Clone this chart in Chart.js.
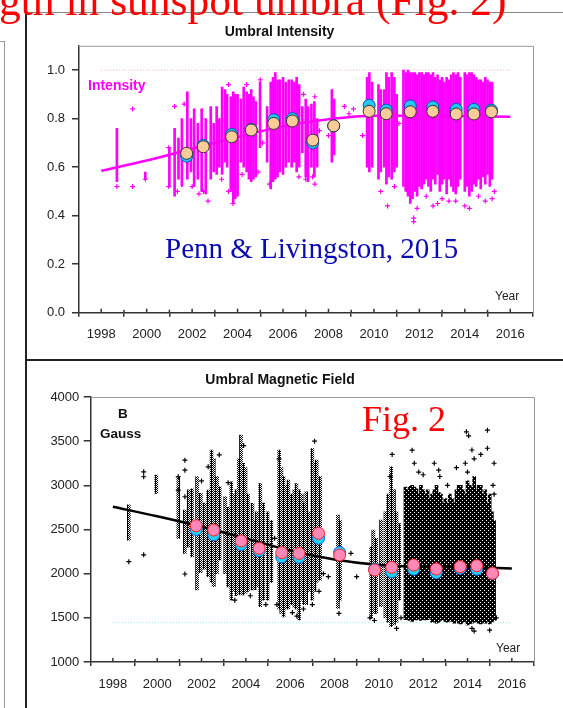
<!DOCTYPE html>
<html><head><meta charset="utf-8">
<script src="https://cdn.jsdelivr.net/npm/chart.js@4/dist/chart.umd.min.js"></script>
<style>
html,body{margin:0;padding:0;background:#fff;width:563px;height:708px;overflow:hidden;position:relative;font-family:Arial,"Liberation Sans",sans-serif}
.abs{position:absolute;white-space:nowrap;line-height:1}
.serif{font-family:"Liberation Serif","Times New Roman",serif}
canvas{position:absolute}
</style></head><body>
<canvas id="c1" width="524" height="348" style="left:26px;top:12px"></canvas>
<canvas id="c2" width="558" height="348" style="left:26px;top:360px"></canvas>

<div class="abs" style="left:26px;top:12px;width:537px;height:0;border-top:1px solid #888"></div>
<div class="abs" style="left:25px;top:10px;width:2px;height:698px;background:#222"></div>
<div class="abs" style="left:26px;top:359px;width:537px;height:2px;background:#222"></div>
<div class="abs" style="left:-10px;top:41px;width:13px;height:700px;border:1px solid #999"></div>

<div class="abs serif" style="left:-1px;top:-21px;font-size:43.5px;color:#ff0000">gth in sunspot umbra (Fig. 2)</div>
<div class="abs" style="left:88px;top:78px;font-size:14px;font-weight:bold;color:#ff00ff">Intensity</div>
<div class="abs serif" style="left:165px;top:234px;font-size:29px;color:#0b0bb5">Penn &amp; Livingston, 2015</div>
<div class="abs" style="left:495px;top:290px;font-size:12px;color:#222">Year</div>
<div class="abs serif" style="left:362px;top:401px;font-size:36px;color:#ff0000">Fig. 2</div>
<div class="abs" style="left:118px;top:407px;font-size:13.5px;font-weight:bold;color:#111">B</div>
<div class="abs" style="left:100px;top:427px;font-size:13.5px;font-weight:bold;color:#111">Gauss</div>
<div class="abs" style="left:496px;top:642px;font-size:12px;color:#222">Year</div>

<script>
// ---------- Umbral Intensity ----------
// sparse observation columns: year, lowest and highest plotted value
const intensitySparseYear = [1998.69,1999.94,2001.0,2001.23,2001.4,2001.55,2001.79,2001.95,2002.09,2002.25,2002.42,2002.6,2002.82,2002.95,2003.08,2003.2,2003.32,2003.45,2003.54,2003.7,2003.81,2003.9,2004.0,2004.15,2004.27,2004.4,2004.5,2004.6,2004.7,2004.8,2004.99,2005.3,2005.46,2005.56,2005.66,2005.76,2005.86,2006.0,2006.12,2006.25,2006.38,2006.5,2006.6,2006.71,2006.85,2007.0,2007.1,2007.25,2007.38,2007.5,2008.15,2008.25,2009.7,2009.8,2009.92,2010.2,2010.3,2010.45,2010.55,2010.65,2010.78,2010.9,2011.0];
const intensitySparseLow = [0.54,0.55,0.52,0.48,0.55,0.52,0.55,0.58,0.52,0.55,0.50,0.49,0.55,0.58,0.57,0.60,0.57,0.62,0.60,0.50,0.45,0.47,0.48,0.62,0.60,0.58,0.55,0.54,0.55,0.56,0.68,0.62,0.51,0.54,0.55,0.56,0.58,0.57,0.60,0.62,0.60,0.62,0.58,0.60,0.66,0.56,0.54,0.60,0.56,0.60,0.62,0.65,0.60,0.58,0.60,0.55,0.58,0.60,0.53,0.56,0.55,0.58,0.60];
const intensitySparseHigh = [0.76,0.58,0.68,0.76,0.72,0.80,0.91,0.80,0.84,0.78,0.84,0.80,0.85,0.78,0.85,0.80,0.93,0.92,0.90,0.89,0.91,0.90,0.90,0.88,0.93,0.91,0.90,0.92,0.89,0.87,0.95,0.85,0.95,0.97,0.99,0.96,0.96,0.97,0.95,0.96,0.96,0.95,0.97,0.94,0.85,0.88,0.85,0.86,0.87,0.80,0.92,0.88,0.97,0.99,0.95,0.94,0.92,0.92,0.99,0.97,0.99,0.97,0.90];
// densely observed period 2011-2015
const intensityDenseYear = [2011.3,2011.4,2011.5,2011.6,2011.7,2011.8,2011.9,2012.0,2012.1,2012.2,2012.3,2012.4,2012.5,2012.6,2012.7,2012.8,2012.9,2013.0,2013.1,2013.2,2013.3,2013.4,2013.5,2013.6,2013.7,2013.8,2014.0,2014.1,2014.2,2014.3,2014.4,2014.5,2014.6,2014.7,2014.8,2014.9,2015.0,2015.1,2015.2];
const intensityDenseLow = [0.52,0.50,0.48,0.45,0.47,0.50,0.48,0.52,0.51,0.53,0.55,0.52,0.50,0.55,0.53,0.57,0.50,0.53,0.55,0.49,0.55,0.52,0.50,0.49,0.52,0.55,0.50,0.52,0.48,0.50,0.53,0.52,0.55,0.51,0.56,0.53,0.57,0.52,0.55];
const intensityDenseHigh = [1.00,0.99,1.00,0.99,0.99,0.99,0.98,0.99,0.99,0.98,0.99,0.99,0.98,0.99,0.97,0.98,0.96,0.97,0.95,0.97,0.96,0.98,0.99,0.98,0.99,0.97,0.99,0.98,0.99,0.99,0.98,0.97,0.96,0.96,0.95,0.97,0.96,0.95,0.95];
// isolated points
const intensityOutYear = [1998.69,1999.38,1999.38,1999.94,2000.97,2000.97,2001.23,2001.35,2001.65,2002.3,2002.7,2003.8,2003.6,2005.1,2007.0,2007.6,2008.0,2008.7,2008.9,2009.1,2009.5,2010.6,2011.1,2011.75,2011.75,2011.9,2012.6,2012.8,2013.3,2014.0,2014.2,2014.9,2015.2,
  2002.0,2002.5,2003.3,2004.2,2004.9,2005.4,2006.7,2007.3,2007.4,2010.3,2010.9,2012.3,2013.0,2013.6,2014.6,2015.3,2007.4,2006.9,2004.4,2003.6,2005.0];
const intensityOutValue = [0.52,0.84,0.52,0.55,0.68,0.52,0.85,0.50,0.86,0.49,0.46,0.45,0.50,0.70,0.55,0.75,0.73,0.85,0.82,0.84,0.73,0.44,0.78,0.375,0.39,0.43,0.44,0.45,0.46,0.44,0.43,0.46,0.47,
  0.52,0.50,0.55,0.57,0.58,0.53,0.56,0.56,0.53,0.50,0.52,0.48,0.47,0.46,0.48,0.50,0.89,0.90,0.94,0.94,0.96];
const intensityMeanYear = [2001.76,2002.49,2003.74,2004.6,2005.59,2006.41,2007.31,2008.23,2009.79,2010.54,2011.6,2012.59,2013.62,2014.4,2015.17];
const intensityMeanA = [0.657,0.684,0.725,0.753,0.78,0.79,0.711,0.77,0.83,0.82,0.828,0.83,0.819,0.819,0.828];
const intensityMeanB = [0.645,0.69,0.735,0.755,0.795,0.80,0.70,0.77,0.855,0.835,0.852,0.848,0.838,0.838,0.835];
const intensityFitYear = [1998,2000,2002,2004,2006,2008,2010,2012,2014,2016];
const intensityFitValue = [0.585,0.627,0.676,0.724,0.768,0.797,0.812,0.812,0.810,0.808];
const intensityRefLevel = 1.0;
const intensityTicks = [0, 0.2, 0.4, 0.6, 0.8, 1.0];

// ---------- Umbral Magnetic Field (Gauss) ----------
const fieldSparseYear = [1998.72,1999.96,2000.95,2001.25,2001.42,2001.57,2001.8,2001.97,2002.15,2002.3,2002.45,2002.55,2002.7,2002.82,2003.07,2003.2,2003.34,2003.47,2003.57,2003.68,2003.78,2003.88,2003.98,2004.1,2004.3,2004.4,2004.5,2004.65,2004.78,2004.98,2005.15,2005.5,2005.6,2005.7,2005.8,2005.92,2006.05,2006.18,2006.28,2006.4,2006.52,2006.62,2006.72,2006.85,2007.0,2007.1,2007.2,2007.35,2008.15,2008.25,2009.65,2009.75,2009.88,2010.1,2010.3,2010.42,2010.55,2010.68,2010.8,2010.92];
const fieldSparseLow = [2380,2909,2400,2230,2300,2190,1815,2010,2050,1966,1900,1853,2000,2153,2000,1850,1700,1800,1750,1775,1760,1760,1780,1800,1815,1820,1850,1626,1700,1700,1900,1600,1550,1510,1600,1600,1650,1620,1600,1475,1700,1650,1650,1800,1700,1800,1900,1927,1606,1700,1494,1550,1550,1626,1500,1450,1400,1420,1450,1700];
const fieldSparseHigh = [2780,3115,3097,2720,2950,2960,3100,2910,2800,2946,3400,3300,3100,2984,2871,2750,3040,2900,2950,3300,3568,3250,3200,2900,2796,2600,2700,3021,2800,2700,2600,3398,3200,3100,3000,3060,2900,2950,3021,2950,2900,2800,2927,2700,3417,3250,3285,3100,2663,2600,2300,2493,2400,2606,2700,2900,3210,2950,2700,2568];
const fieldDenseYear = [2011.2,2011.3,2011.4,2011.5,2011.6,2011.7,2011.8,2011.9,2012.0,2012.1,2012.2,2012.3,2012.4,2012.5,2012.6,2012.7,2012.8,2012.9,2013.0,2013.1,2013.2,2013.3,2013.4,2013.5,2013.6,2013.7,2013.8,2013.9,2014.0,2014.1,2014.2,2014.3,2014.4,2014.5,2014.6,2014.7,2014.8,2014.9,2015.0,2015.1,2015.2];
const fieldDenseLow = [1480,1475,1470,1460,1480,1475,1490,1470,1480,1475,1480,1500,1450,1460,1440,1450,1470,1480,1460,1450,1470,1460,1440,1470,1440,1430,1450,1460,1420,1430,1440,1450,1460,1440,1430,1450,1440,1460,1430,1450,1470];
const fieldDenseHigh = [2980,2950,2990,3000,2980,2960,2900,3000,2950,2900,2950,2850,2900,2950,3000,2920,2900,2800,2850,2800,2900,2850,2800,2950,3000,3000,2950,2900,3050,3000,2980,3100,2950,3000,3000,2900,2950,2800,2900,2700,2600];
const fieldOutYear = [1998.72,1999.39,1999.39,1999.39,2000.95,2000.95,2001.25,2001.25,2001.25,2001.25,2002.3,2002.8,2003.2,2005.3,2006.1,2006.3,2007.5,2007.72,2008.2,2008.74,2009.0,2009.6,2010.5,2010.8,2011.5,2011.6,2011.8,2012.0,2012.7,2012.75,2013.1,2013.9,2013.95,2014.0,2014.05,2014.2,2014.2,2014.3,2014.3,2014.9,2014.9,2015.0,2015.15,2015.2,
  2003.5,2004.2,2004.9,2005.4,2006.6,2007.3,2007.0,2009.8,2011.0,2002.0,2003.9,2005.5,2007.1,2010.6,2012.5,2013.5,2014.6,2015.2,2015.3];
const fieldOutValue = [2136,3153,3097,2213,3097,2946,3285,3172,2871,1996,3210,3345,3030,2400,1560,1520,2000,1966,1550,2230,1966,1500,3100,1380,3398,3250,3150,3120,3172,3100,3000,3250,3606,3150,3560,3400,1380,3300,1350,3625,3420,1360,3000,3250,
  1700,1750,1650,1650,1600,1800,1650,1470,1500,3050,3450,3300,3500,3350,3250,3200,3350,2900,1500];
const fieldMeanYear = [2001.76,2002.55,2003.79,2004.6,2005.62,2006.4,2007.28,2008.23,2009.81,2010.58,2011.57,2012.59,2013.67,2014.42,2015.13];
const fieldMeanA = [2543,2494,2370,2287,2237,2230,2457,2211,2041,2072,2098,2053,2079,2090,2004];
const fieldMeanB = [2500,2440,2330,2260,2190,2185,2400,2240,2050,2020,2050,2010,2060,2050,2000];
const fieldFitYear = [1998,2000,2002,2004,2006,2008,2010,2012,2014,2016];
const fieldFitValue = [2758,2650,2532,2400,2262,2160,2098,2079,2072,2058];
const fieldRefLevel = 1445;
const fieldTicks = [1000,1500,2000,2500,3000,3500,4000];

const yearTicks = [1998,2000,2002,2004,2006,2008,2010,2012,2014,2016];

// ---------- helpers ----------
const pts = (xs, ys) => xs.map((x, i) => ({x, y: ys[i]}));
const ranges = (xs, lo, hi) => xs.map((x, i) => ({x, y: [lo[i], hi[i]]}));

// texture for the black cloud of "+" crosses (4x4 tile with a few white pixels)
function crossTexture(color, holes) {
  const c = document.createElement('canvas'); c.width = 4; c.height = 4;
  const g = c.getContext('2d'); g.fillStyle = color; g.fillRect(0, 0, 4, 4);
  holes.forEach(([hx, hy]) => g.clearRect(hx, hy, 1, 1));
  return g.createPattern(c, 'repeat');
}
const sparseHoles = [[0,0],[2,0],[0,2],[2,2],[3,3],[3,1]];
const denseHoles = [[0,0],[2,2]];

const frame = {
  id: 'frame',
  afterDatasetsDraw(chart) {
    const {ctx, chartArea: a, scales: {x}} = chart;
    ctx.save();
    ctx.strokeStyle = '#999'; ctx.lineWidth = 1;
    ctx.beginPath(); ctx.moveTo(a.left, a.top + 0.5); ctx.lineTo(a.right + 0.5, a.top + 0.5); ctx.lineTo(a.right + 0.5, a.bottom); ctx.stroke();
    ctx.strokeStyle = '#333'; ctx.lineWidth = 1.5;
    for (let yr = yearTicks[0]; yr <= yearTicks[yearTicks.length - 1]; yr++) {
      const px = x.getPixelForValue(yr);
      const len = (yr % 2 === 0) ? 4 : 3;
      ctx.beginPath(); ctx.moveTo(px, a.bottom); ctx.lineTo(px, a.bottom - len); ctx.stroke();
    }
    ctx.restore();
  }
};

function axisX(h, pad) {
  return {
    type: 'linear', min: yearTicks[0], max: yearTicks[yearTicks.length - 1],
    afterBuildTicks: s => { s.ticks = yearTicks.map(v => ({value: v})); },
    ticks: {color: '#222', font: {size: 13, family: 'Arial'}, padding: pad, maxRotation: 0, callback: v => String(v)},
    grid: {drawOnChartArea: false, drawTicks: true, tickLength: 4, color: '#333', lineWidth: 1.5},
    border: {color: '#333', width: 1.5},
    afterFit: s => { s.height = h; }
  };
}
function axisY(min, max, ticks, w, tl, pad, fmt) {
  return {
    type: 'linear', min, max,
    afterBuildTicks: s => { s.ticks = ticks.map(v => ({value: v})); },
    ticks: {color: '#222', font: {size: 13, family: 'Arial'}, padding: pad, callback: fmt},
    grid: {drawOnChartArea: false, drawTicks: true, tickLength: tl, color: '#333', lineWidth: 1.5},
    border: {color: '#333', width: 1.5},
    afterFit: s => { s.width = w; }
  };
}
const common = (titleText, padTop, padBot, padRight) => ({
  responsive: false, animation: false, events: [],
  layout: {padding: {left: 0, top: 0, bottom: 0, right: padRight}},
  plugins: {
    legend: {display: false}, tooltip: {enabled: false},
    title: {display: true, text: titleText, color: '#111', font: {size: 14, weight: 'bold', family: 'Arial'}, padding: {top: padTop, bottom: padBot}}
  }
});

// ---------- chart 1 ----------
const o1 = common('Umbral Intensity', 12, 5, 17);
o1.scales = {
  x: axisX(47.3, 10),
  y: axisY(0, 1.1, intensityTicks, 52.5, 6.5, 7, v => v.toFixed(1))
};
new Chart(document.getElementById('c1'), {
  type: 'scatter',
  data: {datasets: [
    {type: 'line', data: pts([1998, 2016], [intensityRefLevel, intensityRefLevel]), borderColor: '#ffb8c8', borderWidth: 1.2, borderDash: [1, 2], pointRadius: 0, order: 9},
    {type: 'bar', data: ranges(intensitySparseYear, intensitySparseLow, intensitySparseHigh), backgroundColor: '#ff00ff', barThickness: 2, grouped: false, order: 8},
    {type: 'bar', data: ranges(intensityDenseYear, intensityDenseLow, intensityDenseHigh), backgroundColor: '#ff00ff', barThickness: 2, grouped: false, order: 8},
    {data: pts(intensityOutYear, intensityOutValue), pointStyle: 'cross', radius: 2.5, borderColor: '#ff00ff', borderWidth: 1.2, order: 7},
    {type: 'line', data: pts(intensityFitYear, intensityFitValue), borderColor: '#ff00ff', borderWidth: 2.5, pointRadius: 0, cubicInterpolationMode: 'monotone', order: 6},
    {data: pts(intensityMeanYear, intensityMeanB), pointStyle: 'circle', radius: 6, backgroundColor: '#22c8f0', borderColor: '#1050b0', borderWidth: 1, order: 5},
    {data: pts(intensityMeanYear, intensityMeanA), pointStyle: 'circle', radius: 6, backgroundColor: '#ffcc99', borderColor: '#333', borderWidth: 1, order: 4}
  ]},
  options: o1,
  plugins: [frame]
});

// ---------- chart 2 ----------
const o2 = common('Umbral Magnetic Field', 11.6, 8.6, 50);
o2.scales = {
  x: axisX(46, 10.5),
  y: axisY(1000, 4000, fieldTicks, 64.7, 7, 4.4, v => String(v))
};
new Chart(document.getElementById('c2'), {
  type: 'scatter',
  data: {datasets: [
    {type: 'line', data: pts([1998, 2016], [fieldRefLevel, fieldRefLevel]), borderColor: '#a8f0f0', borderWidth: 1.2, borderDash: [1, 2], pointRadius: 0, order: 9},
    {type: 'bar', data: ranges(fieldSparseYear, fieldSparseLow, fieldSparseHigh), backgroundColor: crossTexture('#000', sparseHoles), barThickness: 3, grouped: false, order: 8},
    {type: 'bar', data: ranges(fieldDenseYear, fieldDenseLow, fieldDenseHigh), backgroundColor: crossTexture('#000', denseHoles), barThickness: 3, grouped: false, order: 8},
    {data: pts(fieldOutYear, fieldOutValue), pointStyle: 'cross', radius: 2.5, borderColor: '#000', borderWidth: 1.2, order: 7},
    {type: 'line', data: pts(fieldFitYear, fieldFitValue), borderColor: '#000', borderWidth: 2.5, pointRadius: 0, cubicInterpolationMode: 'monotone', order: 6},
    {data: pts(fieldMeanYear, fieldMeanB), pointStyle: 'circle', radius: 6, backgroundColor: '#22d0f8', borderColor: '#1060e0', borderWidth: 1, order: 5},
    {data: pts(fieldMeanYear, fieldMeanA), pointStyle: 'circle', radius: 6, backgroundColor: '#ff88b8', borderColor: '#ff2020', borderWidth: 1, order: 4}
  ]},
  options: o2,
  plugins: [frame]
});
</script>
</body></html>
